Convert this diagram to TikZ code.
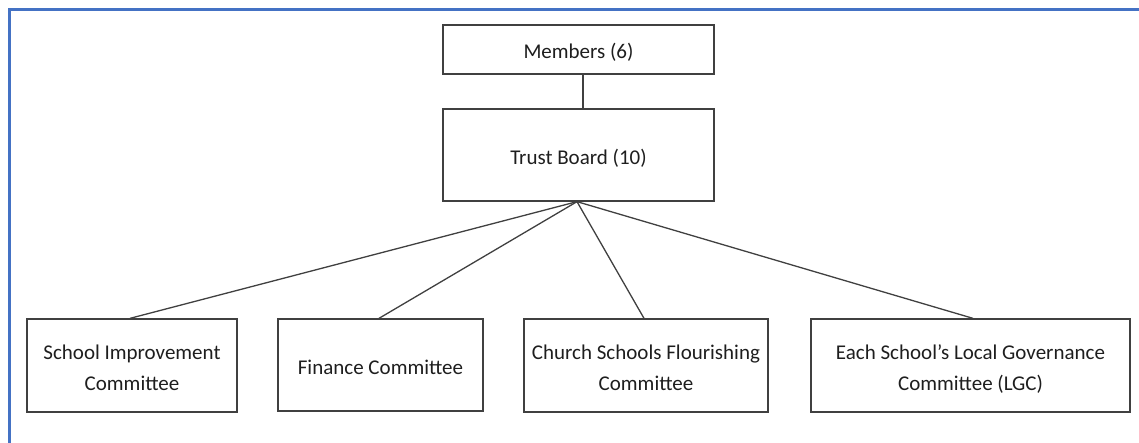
\documentclass[tikz,border=0pt]{standalone}
\usepackage{fontspec}
\setmainfont{Carlito}
\definecolor{frameblue}{RGB}{68,114,196}
\definecolor{boxline}{RGB}{64,64,64}
\definecolor{txt}{RGB}{30,30,30}
\newcommand{\orgtext}[1]{\raisebox{-8pt}[0pt][0pt]{\begin{tabular}{@{}c@{}}#1\end{tabular}}}
\begin{document}
\begin{tikzpicture}[x=1pt,y=-1pt,
  orgbox/.style={draw=boxline,line width=1.3pt,rectangle,align=center,text=txt,
    font=\fontsize{21}{31}\selectfont,inner sep=0pt},
  conn/.style={draw=boxline,line width=1.3pt}]
\useasboundingbox (0,0) rectangle (1139,443);
\draw[frameblue,line width=3pt] (9,443) -- (9,10) -- (1139,10);
\node[orgbox,minimum width=271pt,minimum height=49pt] (members) at (578.5,49.5) {\orgtext{Members (6)}};
\node[orgbox,minimum width=271pt,minimum height=92pt] (trust) at (578.5,155) {\orgtext{Trust Board (10)}};
\node[orgbox,minimum width=210pt,minimum height=93pt] (sic) at (132,365.5) {\orgtext{School Improvement\\Committee}};
\node[orgbox,minimum width=205pt,minimum height=92pt] (fin) at (380.5,365) {\orgtext{Finance Committee}};
\node[orgbox,minimum width=244pt,minimum height=93pt] (csf) at (646,365.5) {\orgtext{Church Schools Flourishing\\Committee}};
\node[orgbox,minimum width=319pt,minimum height=93pt] (lgc) at (970.5,365.5) {\orgtext{Each School’s Local Governance\\Committee (LGC)}};
\draw[conn] ([xshift=4.5pt]members.south) -- ([xshift=4.5pt]trust.north);
\draw[conn] ([xshift=-1.5pt]trust.south) -- ([xshift=-2pt]sic.north);
\draw[conn] ([xshift=-1.5pt]trust.south) -- ([xshift=-1.5pt]fin.north);
\draw[conn] ([xshift=-1.5pt]trust.south) -- ([xshift=-2pt]csf.north);
\draw[conn] ([xshift=-1.5pt]trust.south) -- ([xshift=2.5pt]lgc.north);
\end{tikzpicture}
\end{document}
